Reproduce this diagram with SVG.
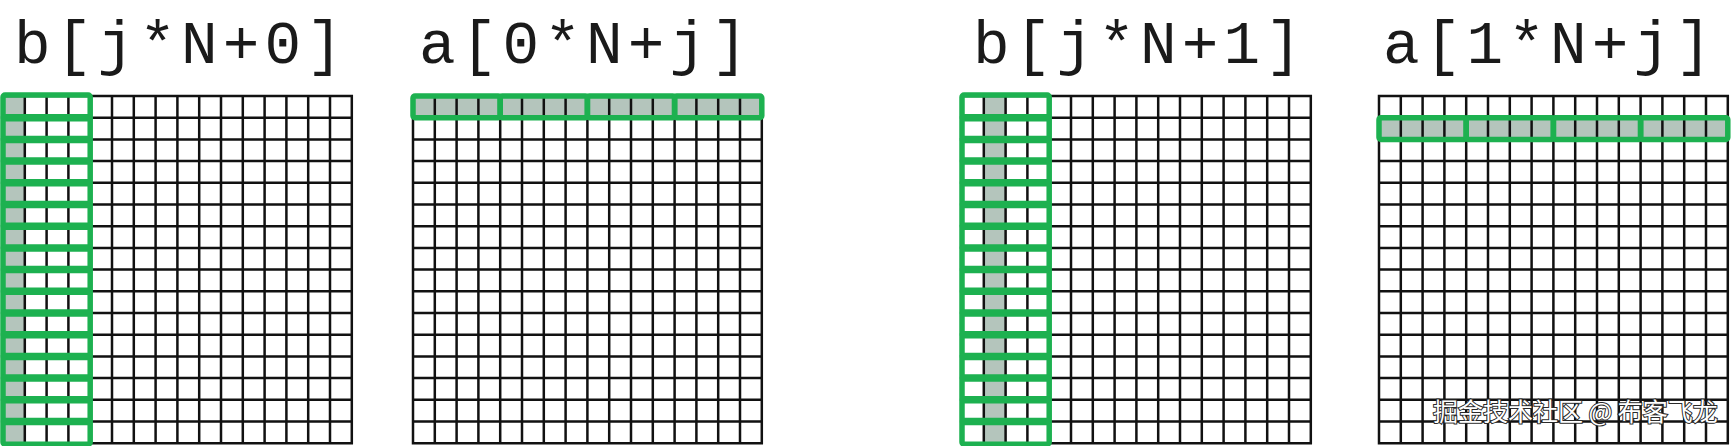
<svg xmlns="http://www.w3.org/2000/svg" xmlns:xlink="http://www.w3.org/1999/xlink" width="1734" height="446" viewBox="0 0 1734 446">
<style>
.lbl{font-family:"Liberation Mono","DejaVu Sans Mono",monospace;font-size:61px;letter-spacing:5.15px;fill:#1a1a1a;}
.grid{fill:none;stroke:#111;stroke-width:2.5;stroke-linecap:square;}
.hl{fill:#b4c5bc;}
.box{fill:none;stroke:#1db150;stroke-width:5.5;}
.wm{font-family:"Noto Sans CJK SC","Noto Sans",sans-serif;font-size:25px;fill:#fff;stroke:#2a2a2a;stroke-width:2;paint-order:stroke fill;}
</style>
<defs>
<path id="grid" class="grid" d="M0 0V347.2M21.8 0V347.2M43.6 0V347.2M65.4 0V347.2M87.2 0V347.2M109 0V347.2M130.8 0V347.2M152.6 0V347.2M174.4 0V347.2M196.2 0V347.2M218 0V347.2M239.8 0V347.2M261.6 0V347.2M283.4 0V347.2M305.2 0V347.2M327 0V347.2M348.8 0V347.2M0 0H348.8M0 21.7H348.8M0 43.4H348.8M0 65.1H348.8M0 86.8H348.8M0 108.5H348.8M0 130.2H348.8M0 151.9H348.8M0 173.6H348.8M0 195.3H348.8M0 217H348.8M0 238.7H348.8M0 260.4H348.8M0 282.1H348.8M0 303.8H348.8M0 325.5H348.8M0 347.2H348.8"/>
<g id="colStack" class="box">
<rect x="0" y="-1" width="87.2" height="23.7" rx="2"/>
<rect x="0" y="20.7" width="87.2" height="23.7" rx="2"/>
<rect x="0" y="42.4" width="87.2" height="23.7" rx="2"/>
<rect x="0" y="64.1" width="87.2" height="23.7" rx="2"/>
<rect x="0" y="85.8" width="87.2" height="23.7" rx="2"/>
<rect x="0" y="107.5" width="87.2" height="23.7" rx="2"/>
<rect x="0" y="129.2" width="87.2" height="23.7" rx="2"/>
<rect x="0" y="150.9" width="87.2" height="23.7" rx="2"/>
<rect x="0" y="172.6" width="87.2" height="23.7" rx="2"/>
<rect x="0" y="194.3" width="87.2" height="23.7" rx="2"/>
<rect x="0" y="216" width="87.2" height="23.7" rx="2"/>
<rect x="0" y="237.7" width="87.2" height="23.7" rx="2"/>
<rect x="0" y="259.4" width="87.2" height="23.7" rx="2"/>
<rect x="0" y="281.1" width="87.2" height="23.7" rx="2"/>
<rect x="0" y="302.8" width="87.2" height="23.7" rx="2"/>
<rect x="0" y="324.5" width="87.2" height="23.7" rx="2"/>
</g>
<g id="rowBoxes" class="box">
<rect x="0" y="0" width="87.2" height="21.7" rx="2"/>
<rect x="87.2" y="0" width="87.2" height="21.7" rx="2"/>
<rect x="174.4" y="0" width="87.2" height="21.7" rx="2"/>
<rect x="261.6" y="0" width="87.2" height="21.7" rx="2"/>
</g>
</defs>
<rect width="1734" height="446" fill="#fff"/>
<g id="panel-b-j0">
<text class="lbl" x="14" y="63">b[j*N+0]</text>
<g transform="translate(3,96)">
<rect class="hl" x="0" y="0" width="21.8" height="347.2"/>
<use xlink:href="#grid"/>
<use xlink:href="#colStack"/>
</g>
</g>
<g id="panel-a-0j">
<text class="lbl" x="419" y="63">a[0*N+j]</text>
<g transform="translate(413,96)">
<rect class="hl" x="0" y="0" width="348.8" height="21.7"/>
<use xlink:href="#grid"/>
<use xlink:href="#rowBoxes"/>
</g>
</g>
<g id="panel-b-j1">
<text class="lbl" x="973" y="63">b[j*N+1]</text>
<g transform="translate(962,96)">
<rect class="hl" x="21.8" y="0" width="21.8" height="347.2"/>
<use xlink:href="#grid"/>
<use xlink:href="#colStack"/>
</g>
</g>
<g id="panel-a-1j">
<text class="lbl" x="1383" y="63">a[1*N+j]</text>
<g transform="translate(1379,96)">
<rect class="hl" x="0" y="21.7" width="348.8" height="21.7"/>
<use xlink:href="#grid"/>
<use xlink:href="#rowBoxes" y="21.7"/>
</g>
</g>
<text class="wm" x="1433" y="421">掘金技术社区 @ 布客飞龙</text>
</svg>
